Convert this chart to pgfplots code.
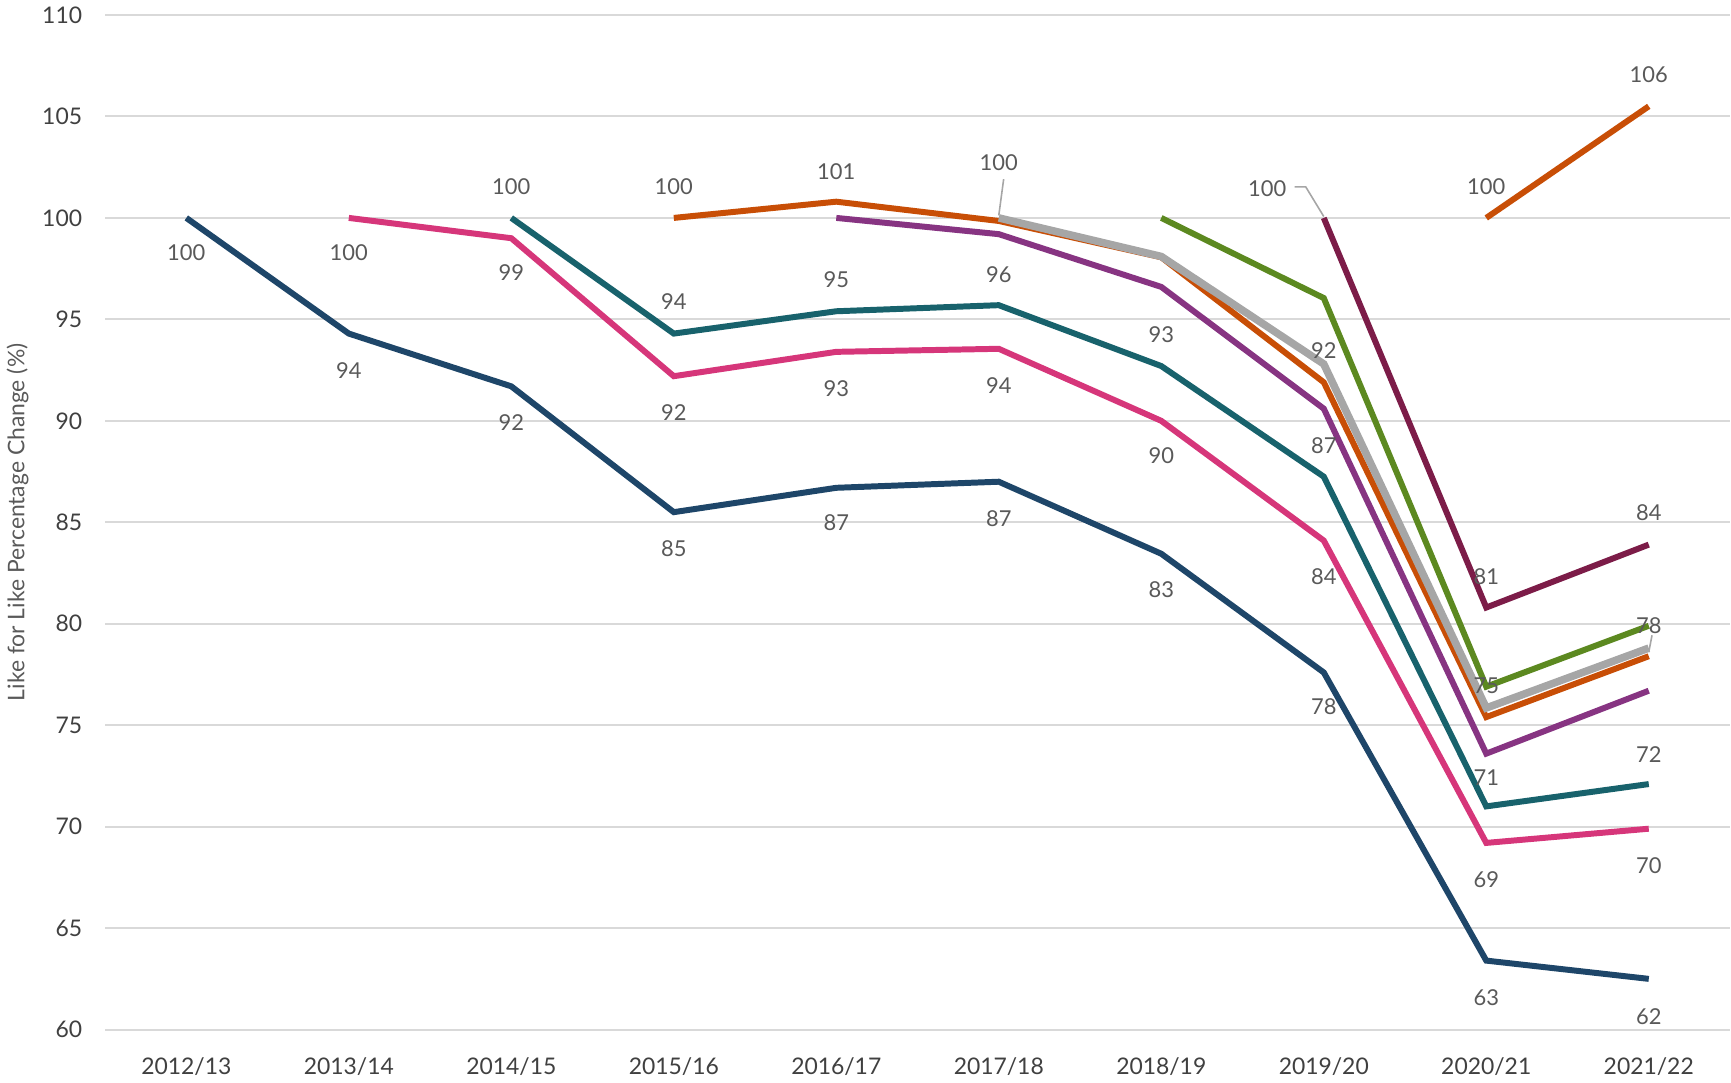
\documentclass[border=0pt]{standalone}
\usepackage{fontspec}
\setmainfont{Lato}
\usepackage{pgfplots}
\usepackage{pgfplotstable}
\pgfplotsset{compat=1.18}

\definecolor{cnavy}{HTML}{1E4669}
\definecolor{cpink}{HTML}{D6367A}
\definecolor{cteal}{HTML}{18626C}
\definecolor{corange}{HTML}{C84E06}
\definecolor{cpurple}{HTML}{873482}
\definecolor{cgray}{HTML}{A6A6A6}
\definecolor{cgreen}{HTML}{5C8920}
\definecolor{cmaroon}{HTML}{7C1C48}
\definecolor{gridc}{HTML}{D9D9D9}
\definecolor{lblc}{HTML}{595959}
\definecolor{tickc}{HTML}{404040}

% label positions (label centres, data units)
\pgfplotstableread{
x y l
0 98.27 100
1 92.46 94
2 89.9 92
3 83.7 85
4 84.97 87
5 85.19 87
6 81.7 83
7 75.9 78
8 61.57 63
9 60.65 62
1 98.27 100
2 97.3 99
3 90.4 92
4 91.6 93
5 91.76 94
6 88.28 90
7 82.3 84
8 67.4 69
9 68.1 70
2 101.53 100
3 95.89 94
4 96.97 95
5 97.19 96
6 94.26 93
7 88.77 87
8 72.43 71
9 73.57 72
3 101.53 100
4 102.29 101
5 102.72 100
7 93.44 92
8 76.94 75
9 79.92 78
6.652 101.42 100
8 82.3 81
9 85.46 84
8 101.53 100
9 107.07 106
}\labels

\begin{document}
\begin{tikzpicture}
\begin{axis}[
    scale only axis,
    width=816pt,
    height=509.5pt,
    xmin=-0.5, xmax=9.5,
    ymin=60, ymax=110,
    xtick={0,...,9},
    xticklabels={2012/13,2013/14,2014/15,2015/16,2016/17,2017/18,2018/19,2019/20,2020/21,2021/22},
    ytick={60,65,...,110},
    ymajorgrids,
    grid style={draw=gridc, line width=1pt},
    axis line style={draw=none},
    major tick length=0pt,
    tick label style={font=\fontsize{11.5}{14}\selectfont, text=tickc},
    /pgf/number format/assume math mode=true,
    yticklabel style={xshift=-8pt},
    xticklabel style={yshift=-10.5pt},
    ylabel={Like for Like Percentage Change (\%)},
    ylabel style={font=\fontsize{11.5}{14}\selectfont, text=lblc},
    clip=false,
    every axis plot/.append style={line width=3pt, mark=none},
]
% 2012/13 cohort
\addplot[cnavy] coordinates {(0,100) (1,94.3) (2,91.7) (3,85.5) (4,86.7) (5,87.0) (6,83.45) (7,77.6) (8,63.4) (9,62.5)};
% 2013/14
\addplot[cpink] coordinates {(1,100) (2,99.0) (3,92.2) (4,93.4) (5,93.55) (6,90.0) (7,84.1) (8,69.2) (9,69.9)};
% 2014/15
\addplot[cteal] coordinates {(2,100) (3,94.3) (4,95.4) (5,95.7) (6,92.7) (7,87.25) (8,71.0) (9,72.1)};
% 2015/16
\addplot[corange] coordinates {(3,100) (4,100.8) (5,99.85) (6,98.06) (7,91.9) (8,75.4) (9,78.4)};
% 2016/17
\addplot[cpurple] coordinates {(4,100) (5,99.2) (6,96.6) (7,90.6) (8,73.6) (9,76.7)};
% 2017/18
\addplot[cgray, line width=3.8pt] coordinates {(5,100) (6,98.1) (7,92.8) (8,75.85) (9,78.8)};
% 2018/19
\addplot[cgreen] coordinates {(6,100) (7,96.05) (8,76.9) (9,79.9)};
% 2019/20
\addplot[cmaroon] coordinates {(7,100) (8,80.8) (9,83.9)};
% 2020/21
\addplot[corange] coordinates {(8,100) (9,105.5)};
% leader lines
\addplot[cgray, line width=0.8pt] coordinates {(5.03,101.91) (5.0,100.12)};
\addplot[cgray, line width=0.8pt] coordinates {(6.821,101.53) (6.889,101.53) (7.0,100.07)};
\addplot[cgray, line width=0.8pt] coordinates {(9.02,79.43) (9.0,78.6)};
% data labels
\addplot[draw=none, nodes near coords, point meta=explicit symbolic,
    nodes near coords align={anchor=center},
    every node near coord/.append style={font=\fontsize{11}{13}\selectfont, text=lblc, inner sep=0pt}]
    table[x=x, y=y, meta=l] {\labels};
\end{axis}
\end{tikzpicture}
\end{document}
